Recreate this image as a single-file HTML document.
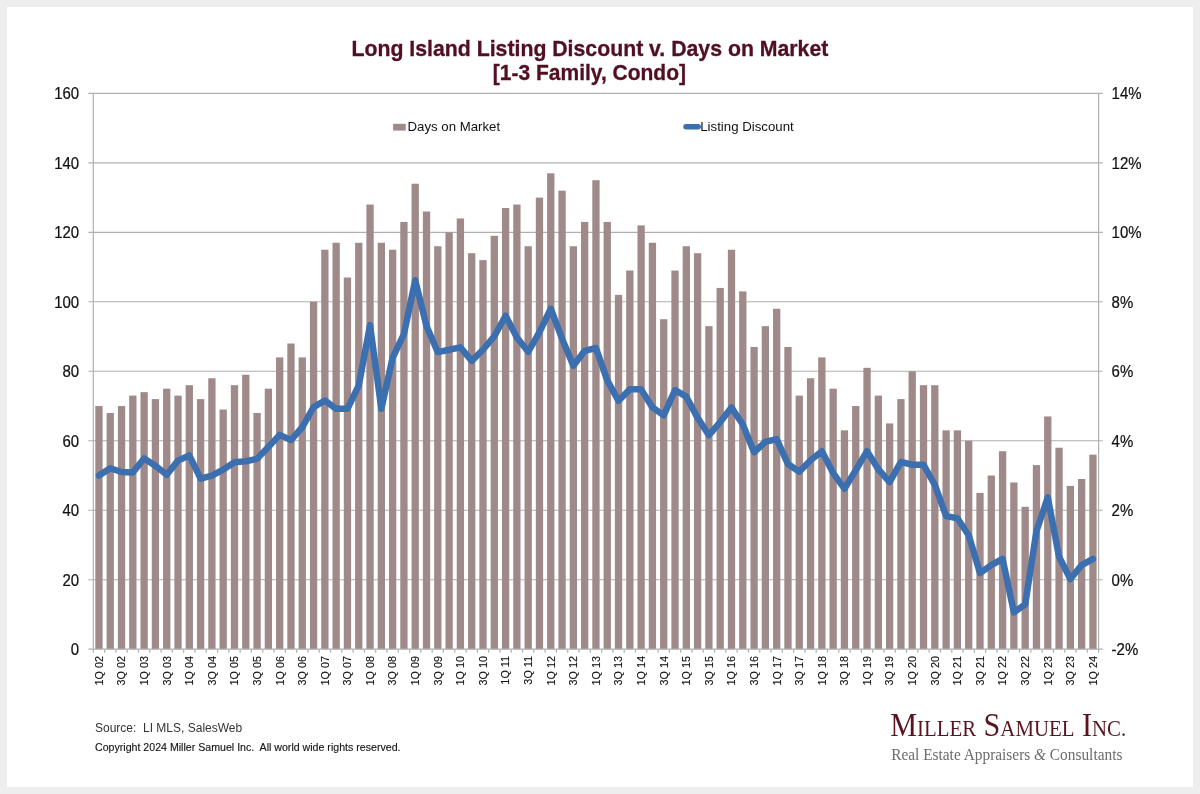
<!DOCTYPE html><html><head><meta charset="utf-8"><title>Long Island Listing Discount v. Days on Market</title><style>html,body{margin:0;padding:0;background:#eeeeee;width:1200px;height:794px;overflow:hidden}svg{display:block;filter:blur(0.35px)}</style></head><body>
<svg width="1200" height="794" viewBox="0 0 1200 794" font-family="'Liberation Sans', sans-serif">
<rect x="0" y="0" width="1200" height="794" fill="#eeeeee"/>
<rect x="7" y="7" width="1186" height="780" fill="#ffffff"/>
<text transform="translate(589.9,55.8) scale(1,1.07)" font-size="21" font-weight="bold" fill="#520f22" stroke="#520f22" stroke-width="0.3" text-anchor="middle" textLength="476.8" lengthAdjust="spacingAndGlyphs">Long Island Listing Discount v. Days on Market</text>
<text transform="translate(589.4,80) scale(1,1.07)" font-size="21" font-weight="bold" fill="#520f22" stroke="#520f22" stroke-width="0.3" text-anchor="middle">[1-3 Family, Condo]</text>
<g stroke="#afafaf" stroke-width="1.1"><line x1="88.3" y1="579.73" x2="1102.6" y2="579.73"/><line x1="88.3" y1="510.25" x2="1102.6" y2="510.25"/><line x1="88.3" y1="440.77" x2="1102.6" y2="440.77"/><line x1="88.3" y1="371.30" x2="1102.6" y2="371.30"/><line x1="88.3" y1="301.82" x2="1102.6" y2="301.82"/><line x1="88.3" y1="232.35" x2="1102.6" y2="232.35"/><line x1="88.3" y1="162.87" x2="1102.6" y2="162.87"/><line x1="88.3" y1="93.40" x2="1102.6" y2="93.40"/></g>
<g fill="#9f8a89"><rect x="95.30" y="406.04" width="7.3" height="243.16"/><rect x="106.59" y="412.99" width="7.3" height="236.22"/><rect x="117.89" y="406.04" width="7.3" height="243.16"/><rect x="129.18" y="395.62" width="7.3" height="253.58"/><rect x="140.48" y="392.14" width="7.3" height="257.06"/><rect x="151.78" y="399.09" width="7.3" height="250.11"/><rect x="163.07" y="388.67" width="7.3" height="260.53"/><rect x="174.37" y="395.62" width="7.3" height="253.58"/><rect x="185.66" y="385.20" width="7.3" height="264.00"/><rect x="196.96" y="399.09" width="7.3" height="250.11"/><rect x="208.25" y="378.25" width="7.3" height="270.95"/><rect x="219.55" y="409.51" width="7.3" height="239.69"/><rect x="230.84" y="385.20" width="7.3" height="264.00"/><rect x="242.14" y="374.77" width="7.3" height="274.43"/><rect x="253.43" y="412.99" width="7.3" height="236.22"/><rect x="264.73" y="388.67" width="7.3" height="260.53"/><rect x="276.03" y="357.41" width="7.3" height="291.80"/><rect x="287.32" y="343.51" width="7.3" height="305.69"/><rect x="298.62" y="357.41" width="7.3" height="291.80"/><rect x="309.91" y="301.82" width="7.3" height="347.38"/><rect x="321.21" y="249.72" width="7.3" height="399.48"/><rect x="332.50" y="242.77" width="7.3" height="406.43"/><rect x="343.80" y="277.51" width="7.3" height="371.69"/><rect x="355.09" y="242.77" width="7.3" height="406.43"/><rect x="366.39" y="204.56" width="7.3" height="444.64"/><rect x="377.69" y="242.77" width="7.3" height="406.43"/><rect x="388.98" y="249.72" width="7.3" height="399.48"/><rect x="400.28" y="221.93" width="7.3" height="427.27"/><rect x="411.57" y="183.72" width="7.3" height="465.48"/><rect x="422.87" y="211.51" width="7.3" height="437.69"/><rect x="434.16" y="246.25" width="7.3" height="402.96"/><rect x="445.46" y="232.35" width="7.3" height="416.85"/><rect x="456.75" y="218.45" width="7.3" height="430.75"/><rect x="468.05" y="253.19" width="7.3" height="396.01"/><rect x="479.34" y="260.14" width="7.3" height="389.06"/><rect x="490.64" y="235.82" width="7.3" height="413.38"/><rect x="501.94" y="208.03" width="7.3" height="441.17"/><rect x="513.23" y="204.56" width="7.3" height="444.64"/><rect x="524.53" y="246.25" width="7.3" height="402.96"/><rect x="535.82" y="197.61" width="7.3" height="451.59"/><rect x="547.12" y="173.30" width="7.3" height="475.90"/><rect x="558.41" y="190.67" width="7.3" height="458.54"/><rect x="569.71" y="246.25" width="7.3" height="402.96"/><rect x="581.00" y="221.93" width="7.3" height="427.27"/><rect x="592.30" y="180.24" width="7.3" height="468.96"/><rect x="603.60" y="221.93" width="7.3" height="427.27"/><rect x="614.89" y="294.88" width="7.3" height="354.32"/><rect x="626.19" y="270.56" width="7.3" height="378.64"/><rect x="637.48" y="225.40" width="7.3" height="423.80"/><rect x="648.78" y="242.77" width="7.3" height="406.43"/><rect x="660.07" y="319.19" width="7.3" height="330.01"/><rect x="671.37" y="270.56" width="7.3" height="378.64"/><rect x="682.66" y="246.25" width="7.3" height="402.96"/><rect x="693.96" y="253.19" width="7.3" height="396.01"/><rect x="705.26" y="326.14" width="7.3" height="323.06"/><rect x="716.55" y="287.93" width="7.3" height="361.27"/><rect x="727.85" y="249.72" width="7.3" height="399.48"/><rect x="739.14" y="291.40" width="7.3" height="357.80"/><rect x="750.44" y="346.98" width="7.3" height="302.22"/><rect x="761.73" y="326.14" width="7.3" height="323.06"/><rect x="773.03" y="308.77" width="7.3" height="340.43"/><rect x="784.32" y="346.98" width="7.3" height="302.22"/><rect x="795.62" y="395.62" width="7.3" height="253.58"/><rect x="806.91" y="378.25" width="7.3" height="270.95"/><rect x="818.21" y="357.41" width="7.3" height="291.80"/><rect x="829.51" y="388.67" width="7.3" height="260.53"/><rect x="840.80" y="430.35" width="7.3" height="218.85"/><rect x="852.10" y="406.04" width="7.3" height="243.16"/><rect x="863.39" y="367.83" width="7.3" height="281.37"/><rect x="874.69" y="395.62" width="7.3" height="253.58"/><rect x="885.98" y="423.41" width="7.3" height="225.79"/><rect x="897.28" y="399.09" width="7.3" height="250.11"/><rect x="908.57" y="371.30" width="7.3" height="277.90"/><rect x="919.87" y="385.20" width="7.3" height="264.00"/><rect x="931.17" y="385.20" width="7.3" height="264.00"/><rect x="942.46" y="430.35" width="7.3" height="218.85"/><rect x="953.76" y="430.35" width="7.3" height="218.85"/><rect x="965.05" y="440.77" width="7.3" height="208.43"/><rect x="976.35" y="492.88" width="7.3" height="156.32"/><rect x="987.64" y="475.51" width="7.3" height="173.69"/><rect x="998.94" y="451.20" width="7.3" height="198.00"/><rect x="1010.23" y="482.46" width="7.3" height="166.74"/><rect x="1021.53" y="506.78" width="7.3" height="142.42"/><rect x="1032.82" y="465.09" width="7.3" height="184.11"/><rect x="1044.12" y="416.46" width="7.3" height="232.74"/><rect x="1055.42" y="447.72" width="7.3" height="201.48"/><rect x="1066.71" y="485.93" width="7.3" height="163.27"/><rect x="1078.01" y="478.99" width="7.3" height="170.21"/><rect x="1089.30" y="454.67" width="7.3" height="194.53"/></g>
<g stroke="#b0b0b0" stroke-width="1.2">
<line x1="93.3" y1="93.4" x2="93.3" y2="649.2"/>
<line x1="1098.6" y1="93.4" x2="1098.6" y2="649.2"/>
<line x1="88.3" y1="649.2" x2="1102.6" y2="649.2"/>
<line x1="93.30" y1="649.2" x2="93.30" y2="652.7"/><line x1="104.60" y1="649.2" x2="104.60" y2="652.7"/><line x1="115.89" y1="649.2" x2="115.89" y2="652.7"/><line x1="127.19" y1="649.2" x2="127.19" y2="652.7"/><line x1="138.48" y1="649.2" x2="138.48" y2="652.7"/><line x1="149.78" y1="649.2" x2="149.78" y2="652.7"/><line x1="161.07" y1="649.2" x2="161.07" y2="652.7"/><line x1="172.37" y1="649.2" x2="172.37" y2="652.7"/><line x1="183.66" y1="649.2" x2="183.66" y2="652.7"/><line x1="194.96" y1="649.2" x2="194.96" y2="652.7"/><line x1="206.26" y1="649.2" x2="206.26" y2="652.7"/><line x1="217.55" y1="649.2" x2="217.55" y2="652.7"/><line x1="228.85" y1="649.2" x2="228.85" y2="652.7"/><line x1="240.14" y1="649.2" x2="240.14" y2="652.7"/><line x1="251.44" y1="649.2" x2="251.44" y2="652.7"/><line x1="262.73" y1="649.2" x2="262.73" y2="652.7"/><line x1="274.03" y1="649.2" x2="274.03" y2="652.7"/><line x1="285.32" y1="649.2" x2="285.32" y2="652.7"/><line x1="296.62" y1="649.2" x2="296.62" y2="652.7"/><line x1="307.91" y1="649.2" x2="307.91" y2="652.7"/><line x1="319.21" y1="649.2" x2="319.21" y2="652.7"/><line x1="330.51" y1="649.2" x2="330.51" y2="652.7"/><line x1="341.80" y1="649.2" x2="341.80" y2="652.7"/><line x1="353.10" y1="649.2" x2="353.10" y2="652.7"/><line x1="364.39" y1="649.2" x2="364.39" y2="652.7"/><line x1="375.69" y1="649.2" x2="375.69" y2="652.7"/><line x1="386.98" y1="649.2" x2="386.98" y2="652.7"/><line x1="398.28" y1="649.2" x2="398.28" y2="652.7"/><line x1="409.57" y1="649.2" x2="409.57" y2="652.7"/><line x1="420.87" y1="649.2" x2="420.87" y2="652.7"/><line x1="432.17" y1="649.2" x2="432.17" y2="652.7"/><line x1="443.46" y1="649.2" x2="443.46" y2="652.7"/><line x1="454.76" y1="649.2" x2="454.76" y2="652.7"/><line x1="466.05" y1="649.2" x2="466.05" y2="652.7"/><line x1="477.35" y1="649.2" x2="477.35" y2="652.7"/><line x1="488.64" y1="649.2" x2="488.64" y2="652.7"/><line x1="499.94" y1="649.2" x2="499.94" y2="652.7"/><line x1="511.23" y1="649.2" x2="511.23" y2="652.7"/><line x1="522.53" y1="649.2" x2="522.53" y2="652.7"/><line x1="533.82" y1="649.2" x2="533.82" y2="652.7"/><line x1="545.12" y1="649.2" x2="545.12" y2="652.7"/><line x1="556.42" y1="649.2" x2="556.42" y2="652.7"/><line x1="567.71" y1="649.2" x2="567.71" y2="652.7"/><line x1="579.01" y1="649.2" x2="579.01" y2="652.7"/><line x1="590.30" y1="649.2" x2="590.30" y2="652.7"/><line x1="601.60" y1="649.2" x2="601.60" y2="652.7"/><line x1="612.89" y1="649.2" x2="612.89" y2="652.7"/><line x1="624.19" y1="649.2" x2="624.19" y2="652.7"/><line x1="635.48" y1="649.2" x2="635.48" y2="652.7"/><line x1="646.78" y1="649.2" x2="646.78" y2="652.7"/><line x1="658.08" y1="649.2" x2="658.08" y2="652.7"/><line x1="669.37" y1="649.2" x2="669.37" y2="652.7"/><line x1="680.67" y1="649.2" x2="680.67" y2="652.7"/><line x1="691.96" y1="649.2" x2="691.96" y2="652.7"/><line x1="703.26" y1="649.2" x2="703.26" y2="652.7"/><line x1="714.55" y1="649.2" x2="714.55" y2="652.7"/><line x1="725.85" y1="649.2" x2="725.85" y2="652.7"/><line x1="737.14" y1="649.2" x2="737.14" y2="652.7"/><line x1="748.44" y1="649.2" x2="748.44" y2="652.7"/><line x1="759.73" y1="649.2" x2="759.73" y2="652.7"/><line x1="771.03" y1="649.2" x2="771.03" y2="652.7"/><line x1="782.33" y1="649.2" x2="782.33" y2="652.7"/><line x1="793.62" y1="649.2" x2="793.62" y2="652.7"/><line x1="804.92" y1="649.2" x2="804.92" y2="652.7"/><line x1="816.21" y1="649.2" x2="816.21" y2="652.7"/><line x1="827.51" y1="649.2" x2="827.51" y2="652.7"/><line x1="838.80" y1="649.2" x2="838.80" y2="652.7"/><line x1="850.10" y1="649.2" x2="850.10" y2="652.7"/><line x1="861.39" y1="649.2" x2="861.39" y2="652.7"/><line x1="872.69" y1="649.2" x2="872.69" y2="652.7"/><line x1="883.99" y1="649.2" x2="883.99" y2="652.7"/><line x1="895.28" y1="649.2" x2="895.28" y2="652.7"/><line x1="906.58" y1="649.2" x2="906.58" y2="652.7"/><line x1="917.87" y1="649.2" x2="917.87" y2="652.7"/><line x1="929.17" y1="649.2" x2="929.17" y2="652.7"/><line x1="940.46" y1="649.2" x2="940.46" y2="652.7"/><line x1="951.76" y1="649.2" x2="951.76" y2="652.7"/><line x1="963.05" y1="649.2" x2="963.05" y2="652.7"/><line x1="974.35" y1="649.2" x2="974.35" y2="652.7"/><line x1="985.64" y1="649.2" x2="985.64" y2="652.7"/><line x1="996.94" y1="649.2" x2="996.94" y2="652.7"/><line x1="1008.24" y1="649.2" x2="1008.24" y2="652.7"/><line x1="1019.53" y1="649.2" x2="1019.53" y2="652.7"/><line x1="1030.83" y1="649.2" x2="1030.83" y2="652.7"/><line x1="1042.12" y1="649.2" x2="1042.12" y2="652.7"/><line x1="1053.42" y1="649.2" x2="1053.42" y2="652.7"/><line x1="1064.71" y1="649.2" x2="1064.71" y2="652.7"/><line x1="1076.01" y1="649.2" x2="1076.01" y2="652.7"/><line x1="1087.30" y1="649.2" x2="1087.30" y2="652.7"/><line x1="1098.60" y1="649.2" x2="1098.60" y2="652.7"/>
</g>
<polyline points="98.95,475.51 110.24,468.22 121.54,472.04 132.83,472.39 144.13,458.49 155.43,465.79 166.72,474.82 178.02,460.58 189.31,455.36 200.61,478.64 211.90,475.51 223.20,469.61 234.49,462.31 245.79,461.27 257.08,458.84 268.38,447.03 279.68,434.87 290.97,440.08 302.27,427.23 313.56,407.08 324.86,400.48 336.15,408.82 347.45,408.82 358.74,385.54 370.04,325.10 381.34,408.82 392.63,357.75 403.93,334.13 415.22,280.29 426.52,326.14 437.81,352.19 449.11,349.76 460.40,347.33 471.70,360.88 482.99,349.76 494.29,336.22 505.59,315.72 516.88,337.60 528.18,351.85 539.47,332.05 550.77,308.77 562.06,338.65 573.36,365.74 584.65,350.80 595.95,348.03 607.25,380.33 618.54,400.83 629.84,389.36 641.13,389.36 652.43,407.43 663.72,415.42 675.02,390.06 686.31,396.66 697.61,417.85 708.91,435.22 720.20,422.02 731.50,407.43 742.79,424.45 754.09,452.24 765.38,441.82 776.68,439.04 787.97,464.05 799.27,471.69 810.56,460.23 821.86,451.20 833.16,473.08 844.45,488.71 855.75,470.30 867.04,451.20 878.34,469.26 889.63,482.11 900.93,461.96 912.22,464.74 923.52,464.74 934.82,484.89 946.11,516.16 957.41,518.24 968.70,535.26 980.00,573.12 991.29,565.14 1002.59,558.88 1013.88,612.38 1025.18,604.39 1036.47,531.09 1047.77,497.40 1059.07,556.80 1070.36,579.03 1081.66,565.14 1092.95,558.88" fill="none" stroke="#3b6fb0" stroke-width="6.5" stroke-linejoin="round" stroke-linecap="round"/>
<g font-size="15" fill="#111111" stroke="#111111" stroke-width="0.2"><text transform="translate(79.2,655.03) scale(1,1.1)" text-anchor="end">0</text><text transform="translate(79.2,585.56) scale(1,1.1)" text-anchor="end">20</text><text transform="translate(79.2,516.08) scale(1,1.1)" text-anchor="end">40</text><text transform="translate(79.2,446.60) scale(1,1.1)" text-anchor="end">60</text><text transform="translate(79.2,377.13) scale(1,1.1)" text-anchor="end">80</text><text transform="translate(79.2,307.65) scale(1,1.1)" text-anchor="end">100</text><text transform="translate(79.2,238.18) scale(1,1.1)" text-anchor="end">120</text><text transform="translate(79.2,168.70) scale(1,1.1)" text-anchor="end">140</text><text transform="translate(79.2,99.23) scale(1,1.1)" text-anchor="end">160</text><text transform="translate(1111.6,655.03) scale(1,1.1)">-2%</text><text transform="translate(1111.6,585.56) scale(1,1.1)">0%</text><text transform="translate(1111.6,516.08) scale(1,1.1)">2%</text><text transform="translate(1111.6,446.60) scale(1,1.1)">4%</text><text transform="translate(1111.6,377.13) scale(1,1.1)">6%</text><text transform="translate(1111.6,307.65) scale(1,1.1)">8%</text><text transform="translate(1111.6,238.18) scale(1,1.1)">10%</text><text transform="translate(1111.6,168.70) scale(1,1.1)">12%</text><text transform="translate(1111.6,99.23) scale(1,1.1)">14%</text></g>
<g font-size="10.8" fill="#111111" stroke="#111111" stroke-width="0.12"><text transform="translate(102.80,656) rotate(-90)" text-anchor="end">1Q 02</text><text transform="translate(125.39,656) rotate(-90)" text-anchor="end">3Q 02</text><text transform="translate(147.98,656) rotate(-90)" text-anchor="end">1Q 03</text><text transform="translate(170.57,656) rotate(-90)" text-anchor="end">3Q 03</text><text transform="translate(193.16,656) rotate(-90)" text-anchor="end">1Q 04</text><text transform="translate(215.75,656) rotate(-90)" text-anchor="end">3Q 04</text><text transform="translate(238.34,656) rotate(-90)" text-anchor="end">1Q 05</text><text transform="translate(260.93,656) rotate(-90)" text-anchor="end">3Q 05</text><text transform="translate(283.53,656) rotate(-90)" text-anchor="end">1Q 06</text><text transform="translate(306.12,656) rotate(-90)" text-anchor="end">3Q 06</text><text transform="translate(328.71,656) rotate(-90)" text-anchor="end">1Q 07</text><text transform="translate(351.30,656) rotate(-90)" text-anchor="end">3Q 07</text><text transform="translate(373.89,656) rotate(-90)" text-anchor="end">1Q 08</text><text transform="translate(396.48,656) rotate(-90)" text-anchor="end">3Q 08</text><text transform="translate(419.07,656) rotate(-90)" text-anchor="end">1Q 09</text><text transform="translate(441.66,656) rotate(-90)" text-anchor="end">3Q 09</text><text transform="translate(464.25,656) rotate(-90)" text-anchor="end">1Q 10</text><text transform="translate(486.84,656) rotate(-90)" text-anchor="end">3Q 10</text><text transform="translate(509.44,656) rotate(-90)" text-anchor="end">1Q 11</text><text transform="translate(532.03,656) rotate(-90)" text-anchor="end">3Q 11</text><text transform="translate(554.62,656) rotate(-90)" text-anchor="end">1Q 12</text><text transform="translate(577.21,656) rotate(-90)" text-anchor="end">3Q 12</text><text transform="translate(599.80,656) rotate(-90)" text-anchor="end">1Q 13</text><text transform="translate(622.39,656) rotate(-90)" text-anchor="end">3Q 13</text><text transform="translate(644.98,656) rotate(-90)" text-anchor="end">1Q 14</text><text transform="translate(667.57,656) rotate(-90)" text-anchor="end">3Q 14</text><text transform="translate(690.16,656) rotate(-90)" text-anchor="end">1Q 15</text><text transform="translate(712.76,656) rotate(-90)" text-anchor="end">3Q 15</text><text transform="translate(735.35,656) rotate(-90)" text-anchor="end">1Q 16</text><text transform="translate(757.94,656) rotate(-90)" text-anchor="end">3Q 16</text><text transform="translate(780.53,656) rotate(-90)" text-anchor="end">1Q 17</text><text transform="translate(803.12,656) rotate(-90)" text-anchor="end">3Q 17</text><text transform="translate(825.71,656) rotate(-90)" text-anchor="end">1Q 18</text><text transform="translate(848.30,656) rotate(-90)" text-anchor="end">3Q 18</text><text transform="translate(870.89,656) rotate(-90)" text-anchor="end">1Q 19</text><text transform="translate(893.48,656) rotate(-90)" text-anchor="end">3Q 19</text><text transform="translate(916.07,656) rotate(-90)" text-anchor="end">1Q 20</text><text transform="translate(938.67,656) rotate(-90)" text-anchor="end">3Q 20</text><text transform="translate(961.26,656) rotate(-90)" text-anchor="end">1Q 21</text><text transform="translate(983.85,656) rotate(-90)" text-anchor="end">3Q 21</text><text transform="translate(1006.44,656) rotate(-90)" text-anchor="end">1Q 22</text><text transform="translate(1029.03,656) rotate(-90)" text-anchor="end">3Q 22</text><text transform="translate(1051.62,656) rotate(-90)" text-anchor="end">1Q 23</text><text transform="translate(1074.21,656) rotate(-90)" text-anchor="end">3Q 23</text><text transform="translate(1096.80,656) rotate(-90)" text-anchor="end">1Q 24</text></g>
<rect x="393.1" y="123.8" width="12.6" height="6.8" fill="#9f8a89"/>
<text x="407.5" y="131" font-size="13.3" fill="#111111" textLength="92.6" lengthAdjust="spacingAndGlyphs">Days on Market</text>
<line x1="686" y1="126.8" x2="698.2" y2="126.8" stroke="#3b6fb0" stroke-width="5.4" stroke-linecap="round"/>
<text x="700.2" y="131" font-size="13.3" fill="#111111" textLength="93.6" lengthAdjust="spacingAndGlyphs">Listing Discount</text>
<text x="95" y="732" font-size="12" fill="#333333" xml:space="preserve">Source:  LI MLS, SalesWeb</text>
<text x="95" y="750.6" font-size="10.5" fill="#111111" stroke="#111111" stroke-width="0.12" xml:space="preserve" textLength="305.5" lengthAdjust="spacingAndGlyphs">Copyright 2024 Miller Samuel Inc.  All world wide rights reserved.</text>
<g font-family="'Liberation Serif', serif">
<text x="890.2" y="736.4" fill="#5a1420" textLength="236" lengthAdjust="spacingAndGlyphs"><tspan font-size="34">M</tspan><tspan font-size="23.5">ILLER</tspan><tspan font-size="34"> S</tspan><tspan font-size="23.5">AMUEL</tspan><tspan font-size="34"> I</tspan><tspan font-size="23.5">NC.</tspan></text>
<text x="891.2" y="759.6" font-size="17.2" fill="#6c6c6c" textLength="231.2" lengthAdjust="spacingAndGlyphs">Real Estate Appraisers <tspan font-style="italic">&amp;</tspan> Consultants</text>
</g>
</svg></body></html>
